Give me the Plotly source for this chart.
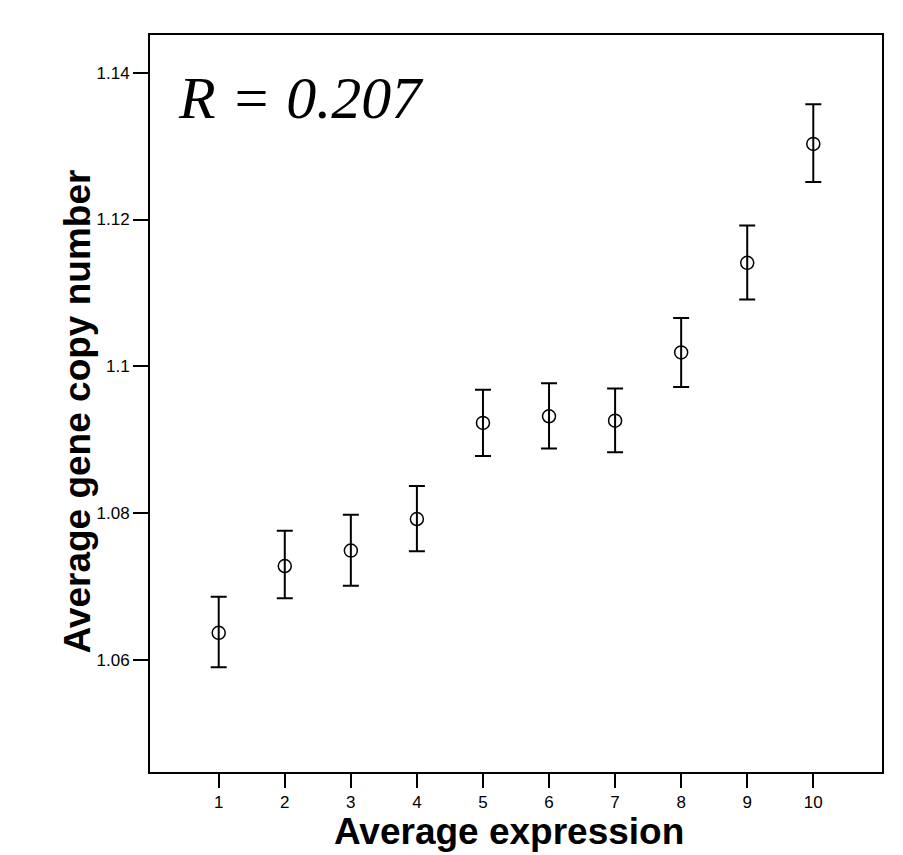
import plotly.graph_objects as go

# Data
categories = [1, 2, 3, 4, 5, 6, 7, 8, 9, 10]
mean_copy = [1.0637, 1.0728, 1.0749, 1.0792, 1.0923, 1.0932, 1.0926, 1.1019, 1.1141, 1.1303]
err_upper = [1.0686, 1.0776, 1.0798, 1.0837, 1.0968, 1.0977, 1.0970, 1.1066, 1.1192, 1.1357]
err_lower = [1.0590, 1.0684, 1.0701, 1.0748, 1.0878, 1.0888, 1.0883, 1.0972, 1.1091, 1.1251]
y_ticks = [1.06, 1.08, 1.1, 1.12, 1.14]
x_ticks = [1, 2, 3, 4, 5, 6, 7, 8, 9, 10]
r_label = "R = 0.207"
x_title = "Average expression"
y_title = "Average gene copy number"

plus = [u - m for u, m in zip(err_upper, mean_copy)]
minus = [m - l for m, l in zip(mean_copy, err_lower)]

fig = go.Figure()
fig.add_trace(go.Scatter(
    x=categories, y=mean_copy, mode="markers",
    marker=dict(symbol="circle-open", size=13, color="black", line=dict(width=1.5, color="black")),
    error_y=dict(type="data", symmetric=False, array=plus, arrayminus=minus,
                 color="black", thickness=2, width=8),
    showlegend=False,
))

fig.add_annotation(
    xref="paper", yref="paper", x=0.035, y=0.915, xanchor="left", yanchor="middle",
    text="<i>" + r_label + "</i>", showarrow=False,
    font=dict(family="Liberation Serif", size=60, color="black"),
)

axis_font = dict(family="Liberation Sans, Arial", size=17, color="black")
title_font = dict(family="Liberation Sans, Arial", size=37, color="black")

# axis titles placed as annotations for precise positioning
fig.add_annotation(
    xref="paper", yref="paper", x=0.491, y=-0.081, xanchor="center", yanchor="middle",
    text="<b>" + x_title + "</b>", showarrow=False, font=title_font,
)
fig.add_annotation(
    xref="paper", yref="paper", x=-0.099, y=0.4885, xanchor="center", yanchor="middle",
    text="<b>" + y_title + "</b>", showarrow=False, font=title_font, textangle=-90,
)

fig.update_layout(
    width=903, height=855,
    margin=dict(l=150, r=21, t=35, b=83),
    paper_bgcolor="white", plot_bgcolor="white",
    xaxis=dict(
        range=[-0.04, 11.04], tickvals=x_ticks, ticktext=[str(v) for v in x_ticks],
        showline=True, linecolor="black", linewidth=2, mirror=True,
        ticks="outside", ticklen=14, tickwidth=1.5, tickcolor="black",
        showgrid=False, zeroline=False, tickfont=axis_font,
    ),
    yaxis=dict(
        range=[1.04474, 1.14514], tickvals=y_ticks, ticktext=["1.06", "1.08", "1.1", "1.12", "1.14"],
        showline=True, linecolor="black", linewidth=2, mirror=True,
        ticks="outside", ticklen=15, tickwidth=1.5, tickcolor="black",
        showgrid=False, zeroline=False, tickfont=axis_font,
    ),
)

fig.write_html("out.html")
